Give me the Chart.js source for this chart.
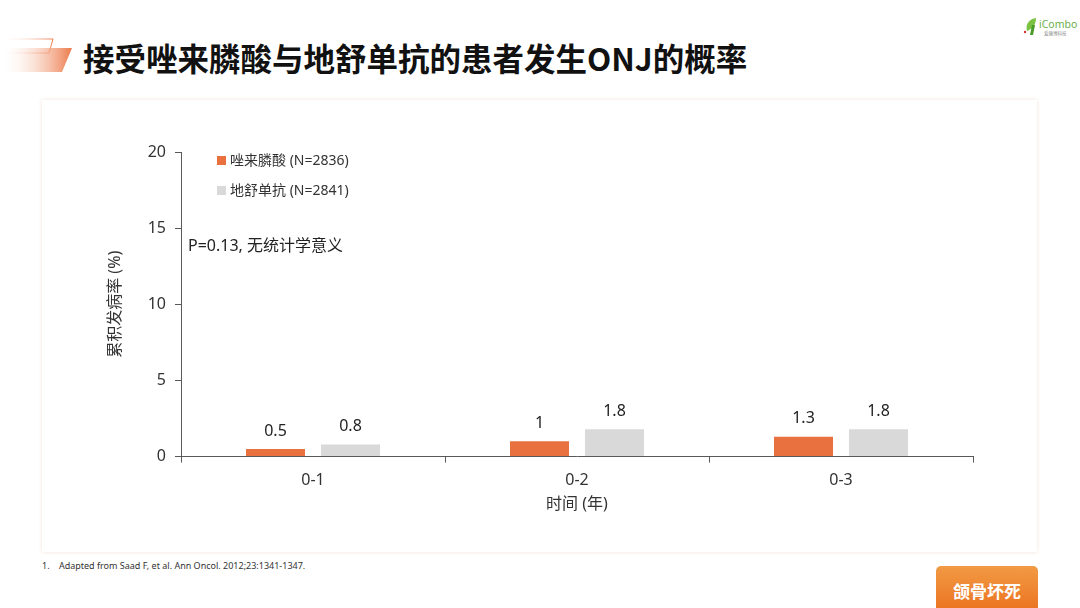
<!DOCTYPE html>
<html>
<head>
<meta charset="utf-8">
<script src="https://cdn.jsdelivr.net/npm/chart.js@4/dist/chart.umd.min.js"></script>
<style>
  body { margin: 0; width: 1080px; height: 608px; background: #fff; position: relative; overflow: hidden;
         font-family: 'Noto Sans', 'Noto Sans CJK SC', sans-serif; }
  .deco { position: absolute; left: 0; top: 36px; }
  .title { position: absolute; left: 83px; top: 36px; font-size: 31.5px; font-weight: 700; color: #111;
           font-family: 'Noto Sans CJK SC', sans-serif; line-height: 42px; white-space: nowrap; }
  .logo { position: absolute; left: 1020px; top: 14px; }
  .card { position: absolute; left: 42px; top: 100px; width: 995px; height: 452px; background: #fff;
          box-shadow: 0 0 4px rgba(230, 190, 180, 0.45); }
  .foot { position: absolute; left: 42px; top: 559px; font-size: 9px; color: #333; }
  .btn { position: absolute; left: 936px; top: 566px; width: 102px; height: 52px; border-radius: 5px;
         background: linear-gradient(#f29a44, #ea6d1c); color: #fff; font-weight: 700; font-size: 17px;
         font-family: 'Noto Sans CJK SC', sans-serif; text-align: center; line-height: 52px; }
  .btn span { position: relative; top: -1px; }
</style>
</head>
<body>
<svg class="deco" width="80" height="40">
  <defs>
    <linearGradient id="g1" x1="0" x2="1" y1="0" y2="0">
      <stop offset="0" stop-color="#fff" stop-opacity="0"/>
      <stop offset="1" stop-color="#ec7a4a"/>
    </linearGradient>
  </defs>
  <polygon points="0,3 53,3 49,17 0,17" fill="none" stroke="url(#g1)" stroke-width="1"/>
  <polygon points="0,12 72,12 62,36 0,36" fill="url(#g1)"/>
</svg>
<div class="title">接受唑来膦酸与地舒单抗的患者发生ONJ的概率</div>
<svg class="logo" width="60" height="26">
  <path d="M7 17 C5 9 10 5 16 4 C16 11 12 15 7 17 Z" fill="#7cc242"/>
  <path d="M10 21 L12 11 L15 11 L13 21 Z" fill="#4a9a2a"/>
  <circle cx="5" cy="18" r="1.2" fill="#e03030"/>
  <text x="19" y="14" font-size="10.5" fill="#6ab04c" font-family="Noto Sans, sans-serif">iCombo</text>
  <text x="24" y="21" font-size="4.5" fill="#8a8a8a" font-family="Noto Sans CJK SC, sans-serif">爱康博科技</text>
</svg>
<div class="card"><canvas id="chart" width="995" height="452"></canvas></div>
<div class="foot">1.&nbsp;&nbsp;&nbsp;&nbsp;Adapted from Saad F, et al. Ann Oncol. 2012;23:1341-1347.</div>
<div class="btn"><span>颌骨坏死</span></div>

<script>
var categories = ['0-1', '0-2', '0-3'];
var zoledronic = [0.5, 1, 1.3];
var denosumab = [0.8, 1.8, 1.8];
var seriesNames = ['唑来膦酸 (N=2836)', '地舒单抗 (N=2841)'];
var yTicks = [0, 5, 10, 15, 20];
var pNote = 'P=0.13, 无统计学意义';

var fontFamily = "'Noto Sans', 'Noto Sans CJK SC', sans-serif";

// labels above bars
var valueLabels = {
    id: 'valueLabels',
    afterDatasetsDraw: function(chart) {
        var ctx = chart.ctx;
        ctx.save();
        ctx.font = '16px ' + fontFamily;
        ctx.fillStyle = '#222';
        ctx.textAlign = 'center';
        ctx.textBaseline = 'middle';
        chart.data.datasets.forEach(function(ds, i) {
            chart.getDatasetMeta(i).data.forEach(function(bar, j) {
                ctx.fillText(String(ds.data[j]), bar.x, bar.y - 18);
            });
        });
        ctx.restore();
    }
};

// legend and note inside the plot
var innerLegend = {
    id: 'innerLegend',
    afterDraw: function(chart) {
        var ctx = chart.ctx;
        var area = chart.chartArea;
        ctx.save();
        ctx.textBaseline = 'middle';
        ctx.font = '14px ' + fontFamily;
        chart.data.datasets.forEach(function(ds, i) {
            var y = area.top + 9 + i * 30;
            ctx.fillStyle = ds.backgroundColor;
            ctx.fillRect(area.left + 36, y - 5, 9, 9);
            ctx.fillStyle = '#333';
            ctx.fillText(ds.label, area.left + 49, y);
        });
        ctx.font = '16px ' + fontFamily;
        ctx.fillStyle = '#222';
        ctx.fillText(pNote, area.left + 7, area.top + 94);
        ctx.restore();
    }
};

new Chart(document.getElementById('chart').getContext('2d'), {
    type: 'bar',
    data: {
        labels: categories,
        datasets: [{
            label: seriesNames[0],
            data: zoledronic,
            backgroundColor: '#e97140'
        }, {
            label: seriesNames[1],
            data: denosumab,
            backgroundColor: '#d9d9d9'
        }]
    },
    options: {
        responsive: false,
        animation: false,
        categoryPercentage: 0.568,
        barPercentage: 0.787,
        layout: { padding: { left: 60, top: 52, right: 64, bottom: 34 } },
        plugins: {
            legend: { display: false },
            tooltip: { enabled: false }
        },
        scales: {
            x: {
                grid: { offset: true, drawOnChartArea: false, tickLength: 6, color: '#595959' },
                border: { color: '#595959' },
                ticks: { color: '#333', padding: 8, font: { size: 16, family: fontFamily } },
                title: { display: true, text: '时间 (年)', color: '#333', padding: { top: -3, bottom: 4 },
                         font: { size: 16, family: fontFamily } }
            },
            y: {
                min: 0,
                max: 20,
                afterBuildTicks: function(scale) {
                    scale.ticks = yTicks.map(function(v) { return { value: v }; });
                },
                afterFit: function(scale) { scale.width = 79; },
                grid: { drawOnChartArea: false, tickLength: 6, color: '#595959' },
                border: { color: '#595959' },
                ticks: { color: '#333', padding: 9, font: { size: 16, family: fontFamily } },
                title: { display: true, text: '累积发病率 (%)', color: '#333', padding: { top: 4, bottom: 0 },
                         font: { size: 16, family: fontFamily } }
            }
        }
    },
    plugins: [valueLabels, innerLegend]
});
</script>
</body>
</html>
